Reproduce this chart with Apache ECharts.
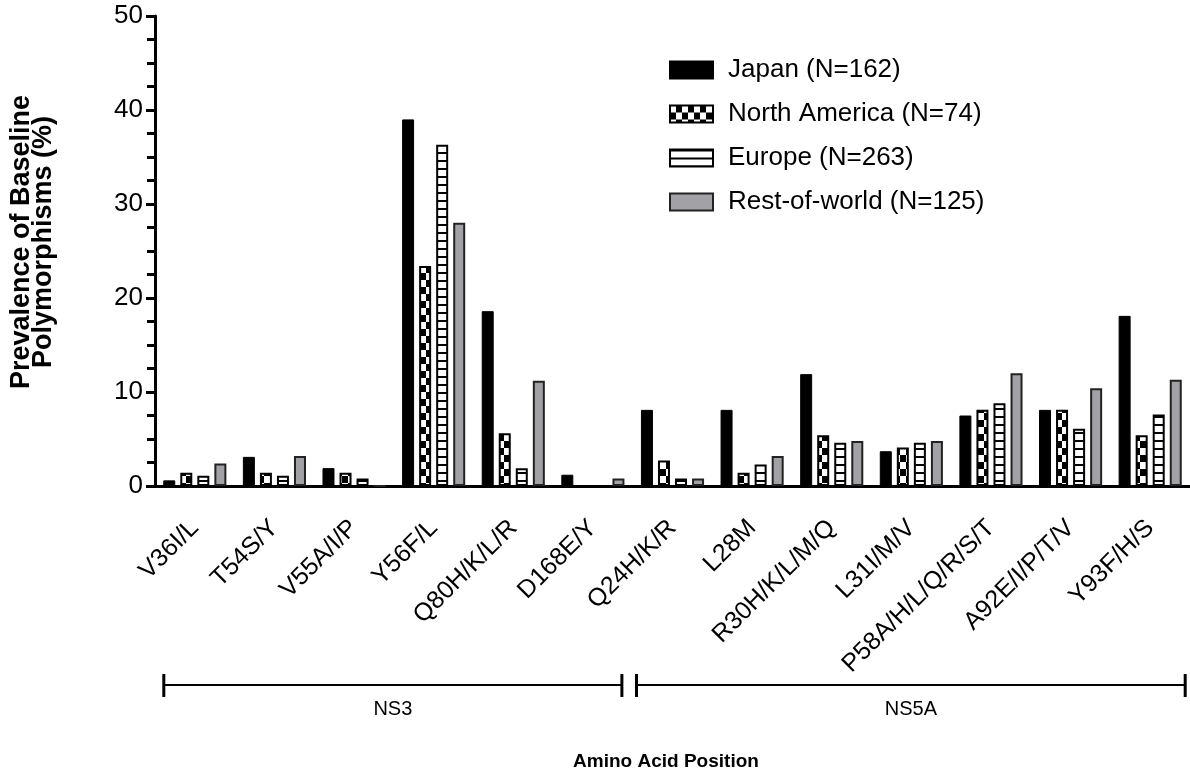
<!DOCTYPE html>
<html>
<head>
<meta charset="utf-8">
<script src="https://cdn.jsdelivr.net/npm/echarts@6/dist/echarts.min.js"></script>
<style>
html,body{margin:0;padding:0;background:#fff;}
#chart{width:1190px;height:777px;}
</style>
</head>
<body>
<div id="chart"></div>
<script>
const categories = ['V36I/L','T54S/Y','V55A/I/P','Y56F/L','Q80H/K/L/R','D168E/Y','Q24H/K/R','L28M','R30H/K/L/M/Q','L31I/M/V','P58A/H/L/Q/R/S/T','A92E/I/P/T/V','Y93F/H/S'];
const seriesNames = ['Japan (N=162)','North America (N=74)','Europe (N=263)','Rest-of-world (N=125)'];
const japan        = [0.6, 3.1, 1.9, 39.0, 18.6, 1.2, 8.1, 8.1, 11.9, 3.7, 7.5, 8.1, 18.1];
const northAmerica = [1.4, 1.4, 1.4, 23.4, 5.6, 0, 2.7, 1.4, 5.4, 4.1, 8.1, 8.1, 5.4];
const europe       = [1.1, 1.1, 0.8, 36.3, 1.9, 0, 0.8, 2.3, 4.6, 4.6, 8.8, 6.1, 7.6];
const restOfWorld  = [2.4, 3.2, 0, 28.0, 11.2, 0.8, 0.8, 3.2, 4.8, 4.8, 12.0, 10.4, 11.3];
const yTicks = [0, 10, 20, 30, 40, 50];
const regions = [
  {name: 'NS3', from: 0, to: 5},
  {name: 'NS5A', from: 6, to: 12}
];

const FONT = '"Liberation Sans", Arial, sans-serif';

function checker() {
  const c = document.createElement('canvas');
  c.width = 12; c.height = 14;
  const g = c.getContext('2d');
  g.fillStyle = '#fff'; g.fillRect(0, 0, 12, 14);
  g.fillStyle = '#000';
  g.fillRect(6, 0, 6, 7);
  g.fillRect(0, 7, 6, 7);
  return c;
}
function stripes() {
  const c = document.createElement('canvas');
  c.width = 8; c.height = 8;
  const g = c.getContext('2d');
  g.fillStyle = '#fff'; g.fillRect(0, 0, 8, 8);
  g.fillStyle = '#000';
  g.fillRect(0, 0, 8, 2);
  return c;
}

const chart = echarts.init(document.getElementById('chart'), null, {renderer: 'canvas'});

const barBase = {
  type: 'bar',
  barWidth: 12,
  barGap: '42%'
};

const option = {
  animation: false,
  backgroundColor: '#fff',
  grid: {left: 155, top: 16, right: -2.5, bottom: 291, containLabel: false},
  legend: {
    orient: 'vertical',
    left: 664,
    top: 52,
    itemWidth: 43,
    itemHeight: 17,
    itemGap: 18,
    icon: 'rect',
    textStyle: {fontFamily: FONT, fontSize: 26, color: '#000', padding: [0, 0, 0, 10]},
    data: seriesNames
  },
  xAxis: {
    type: 'category',
    data: categories,
    axisLine: {lineStyle: {color: '#000', width: 3}},
    axisTick: {alignWithLabel: true, length: 10, lineStyle: {color: '#000', width: 3}},
    axisLabel: {rotate: 45, fontFamily: FONT, fontSize: 25, color: '#000', margin: 38, interval: 0}
  },
  yAxis: {
    type: 'value',
    min: yTicks[0],
    max: yTicks[yTicks.length - 1],
    interval: 10,
    axisLine: {show: true, lineStyle: {color: '#000', width: 3}},
    axisTick: {show: true, length: 9, lineStyle: {color: '#000', width: 3}},
    minorTick: {show: true, splitNumber: 4, length: 8, lineStyle: {color: '#000', width: 3}},
    splitLine: {show: false},
    axisLabel: {fontFamily: FONT, fontSize: 26, color: '#000', margin: 12}
  },
  series: [
    Object.assign({}, barBase, {name: seriesNames[0], data: japan,
      itemStyle: {color: '#000', borderColor: '#000', borderWidth: 1}}),
    Object.assign({}, barBase, {name: seriesNames[1], data: northAmerica,
      itemStyle: {color: {image: checker(), repeat: 'repeat'}, borderColor: '#000', borderWidth: 2}}),
    Object.assign({}, barBase, {name: seriesNames[2], data: europe,
      itemStyle: {color: {image: stripes(), repeat: 'repeat'}, borderColor: '#000', borderWidth: 2}}),
    Object.assign({}, barBase, {name: seriesNames[3], data: restOfWorld,
      itemStyle: {color: '#a2a2a6', borderColor: '#222', borderWidth: 2}})
  ]
};
chart.setOption(option);

// annotations: region brackets and titles
const graphics = [];
const yLine = 685;
regions.forEach(function (r, i) {
  const x0 = chart.convertToPixel({xAxisIndex: 0}, r.from) - (i === 0 ? 31 : 36);
  const x1 = Math.min(chart.convertToPixel({xAxisIndex: 0}, r.to) + (i === 0 ? 29 : 35), 1188);
  graphics.push({type: 'line', shape: {x1: x0, y1: yLine, x2: x1, y2: yLine}, style: {stroke: '#000', lineWidth: 2}});
  graphics.push({type: 'line', shape: {x1: x0, y1: yLine - 11, x2: x0, y2: yLine + 12}, style: {stroke: '#000', lineWidth: 3}});
  graphics.push({type: 'line', shape: {x1: x1, y1: yLine - 11, x2: x1, y2: yLine + 12}, style: {stroke: '#000', lineWidth: 3}});
  graphics.push({type: 'text', x: (x0 + x1) / 2, y: yLine + 24,
    style: {text: r.name, font: '20px ' + FONT, fill: '#000', textAlign: 'center', textVerticalAlign: 'middle'}});
});
graphics.push({type: 'text', x: 666, y: 762,
  style: {text: 'Amino Acid Position', font: 'bold 19px ' + FONT, fill: '#000', textAlign: 'center', textVerticalAlign: 'middle'}});
graphics.push({type: 'text', x: 33, y: 242, rotation: Math.PI / 2,
  style: {text: 'Prevalence of Baseline\nPolymorphisms (%)', font: 'bold 27px ' + FONT, lineHeight: 22, fill: '#000', textAlign: 'center', textVerticalAlign: 'middle'}});
chart.setOption({graphic: graphics});
</script>
</body>
</html>
